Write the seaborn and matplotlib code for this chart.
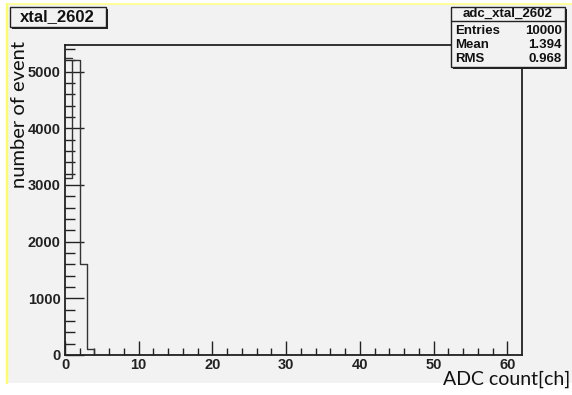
import numpy as np
import matplotlib
matplotlib.use("Agg")
import matplotlib.pyplot as plt
import seaborn as sns
from matplotlib.patches import Rectangle
from matplotlib.lines import Line2D

# ---------------- data ----------------
bin_edges = list(range(0, 63))          # ADC channels 0..62, width 1
counts = [3130, 5200, 1600, 100, 8, 8, 8, 8, 0, 5, 5, 5, 0, 0, 3, 0, 3, 3,
          0, 0, 0, 3, 3, 0, 0, 0, 0, 0, 3, 0, 0, 2, 0, 2] + [0] * 28
first_bin_overlay = [5240]              # second outline drawn on bin 0
hist_title = "xtal_2602"
stats_title = "adc_xtal_2602"
stats_labels = ["Entries", "Mean", "RMS"]
stats_values = ["10000", "1.394", "0.968"]
x_ticks = [0, 10, 20, 30, 40, 50, 60]
y_ticks = [0, 1000, 2000, 3000, 4000, 5000]
x_label = "ADC count[ch]"
y_label = "number of event"

# ---------------- figure ----------------
sns.set_style("ticks")
plt.rcParams["font.family"] = ["Liberation Sans", "DejaVu Sans"]

W, H = 572, 395
fig = plt.figure(figsize=(W / 100, H / 100), dpi=100)
fig.patch.set_facecolor("white")
BG = "#f2f2f2"

def fx(px):
    return px / W

def fy(py):
    return 1 - py / H

# canvas background with yellow border at left / top
fig.add_artist(Rectangle((fx(7), fy(383)), fx(W - 7), (383 - 4) / H,
                         transform=fig.transFigure, facecolor=BG,
                         edgecolor="none", zorder=-5))
fig.add_artist(Line2D([fx(7), fx(7)], [fy(383), fy(4)], color="#ffff55",
                      lw=1.5, transform=fig.transFigure, zorder=-4))
fig.add_artist(Line2D([fx(7), fx(W)], [fy(4), fy(4)], color="#ffff88",
                      lw=1.2, transform=fig.transFigure, zorder=-4))

ax = fig.add_axes([fx(65), fy(355), fx(522 - 65), (355 - 45) / H])
ax.set_facecolor(BG)

centers = [e + 0.5 for e in bin_edges[:-1]]
sns.histplot(x=centers, weights=counts, bins=bin_edges, element="step",
             fill=False, color="#333333", linewidth=1.0, ax=ax)
ov_edges = bin_edges[:len(first_bin_overlay) + 1]
sns.histplot(x=[e + 0.5 for e in ov_edges[:-1]], weights=first_bin_overlay,
             bins=ov_edges, element="step", fill=False, color="#333333",
             linewidth=1.0, ax=ax)

ax.set_xlim(0, 62)
ax.set_ylim(0, 5470)
ax.set_xticks(x_ticks)
ax.set_yticks(y_ticks)
ax.set_xticks(np.arange(0, 62, 2), minor=True)
ax.set_yticks(np.arange(0, 5470, 200), minor=True)
ax.tick_params(axis="both", which="both", direction="in", colors="#222222",
               labelsize=10.5, width=1)
ax.tick_params(axis="y", which="major", length=14, pad=3)
ax.tick_params(axis="y", which="minor", length=7)
ax.tick_params(axis="x", which="major", length=10, pad=2)
ax.tick_params(axis="x", which="minor", length=5)
for lab in ax.get_xticklabels() + ax.get_yticklabels():
    lab.set_fontweight("bold")
ax.set_xlabel("")
ax.set_ylabel("")
for s in ax.spines.values():
    s.set_visible(True)
    s.set_color("#222222")
    s.set_linewidth(1.3)

# title box
def shadow_box(x0, y0, x1, y1, z=20):
    fig.add_artist(Rectangle((fx(x0 + 2), fy(y1 + 2)), fx(x1 - x0), (y1 - y0) / H,
                             transform=fig.transFigure, facecolor="#222222",
                             edgecolor="none", zorder=z))
    fig.add_artist(Rectangle((fx(x0), fy(y1)), fx(x1 - x0), (y1 - y0) / H,
                             transform=fig.transFigure, facecolor=BG,
                             edgecolor="#222222", lw=1, zorder=z + 1))

shadow_box(10, 7, 106, 27)
fig.text(fx(57), fy(17), hist_title, ha="center", va="center",
         fontsize=12, fontweight="bold", color="#111111", zorder=30)

# stats box
shadow_box(451, 7, 565, 67)
fig.add_artist(Line2D([fx(451), fx(565)], [fy(21), fy(21)], color="#222222",
                      lw=1, transform=fig.transFigure, zorder=25))
fig.text(fx(508), fy(14), stats_title, ha="center", va="center",
         fontsize=9.5, fontweight="bold", color="#111111", zorder=30)
for i, (lab, val) in enumerate(zip(stats_labels, stats_values)):
    yy = fy(31 + i * 14)
    fig.text(fx(455), yy, lab, ha="left", va="center", fontsize=9.5,
             fontweight="bold", color="#111111", zorder=30)
    fig.text(fx(562), yy, val, ha="right", va="center", fontsize=9.5,
             fontweight="bold", color="#111111", zorder=30)

# axis labels (overlaid, non-bold)
fig.text(fx(570), fy(379), x_label, ha="right", va="center", fontsize=14,
         family=["Lato", "DejaVu Sans"], color="#111111", zorder=30)
fig.text(fx(20), fy(115), y_label, ha="center", va="center", rotation=90,
         fontsize=14.5, family=["Lato", "DejaVu Sans"], color="#111111",
         zorder=30)

fig.savefig("out.png", dpi=100)
